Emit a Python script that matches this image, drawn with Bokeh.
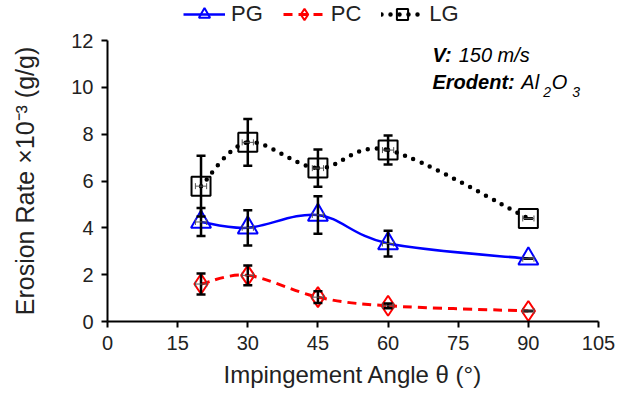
from bokeh.plotting import figure
from bokeh.layouts import column
from bokeh.models import (ColumnDataSource, Whisker, TeeHead, FixedTicker, Legend, LegendItem,
                          Label, Range1d)
from bokeh.embed import file_html
from bokeh.resources import INLINE

# ---- data ----
angles = [20, 30, 45, 60, 90]
pg = [4.25, 4.0, 4.55, 3.33, 2.68]
pg_err = [0.6, 0.75, 0.8, 0.55, 0.0]
pc = [1.6, 1.97, 1.04, 0.67, 0.45]
pc_err = [0.45, 0.42, 0.25, 0.1, 0.0]
lg = [5.78, 7.65, 6.55, 7.32, 4.4]
lg_err = [1.3, 1.0, 0.8, 0.62, 0.0]
ang_err = [1.2, 1.2, 1.2, 1.2, 1.2]
x_ticks = [0, 15, 30, 45, 60, 75, 90, 105]
y_ticks = [0, 2, 4, 6, 8, 10, 12]

FONT = "Liberation Sans"

p = figure(width=634, height=369, output_backend="svg", toolbar_location=None,
           x_range=Range1d(0, 105), y_range=Range1d(0, 12),
           min_border_left=107, min_border_right=36, min_border_top=12, min_border_bottom=76)
p.outline_line_color = None
p.xgrid.visible = False
p.ygrid.visible = False
p.background_fill_color = "white"
p.border_fill_color = "white"

for ax, ticks in ((p.xaxis[0], x_ticks), (p.yaxis[0], y_ticks)):
    ax.ticker = FixedTicker(ticks=ticks)
    ax.axis_line_width = 2
    ax.axis_line_color = "black"
    ax.major_tick_line_width = 2
    ax.major_tick_line_color = "black"
    ax.major_tick_out = 6
    ax.major_tick_in = 0
    ax.minor_tick_line_color = None
    ax.major_label_text_font = FONT
    ax.major_label_text_font_size = "20px"
    ax.major_label_text_color = "#222222"
    ax.axis_label_text_font = FONT
    ax.axis_label_text_font_size = "24px"
    ax.axis_label_text_font_style = "normal"
    ax.axis_label_text_color = "#222222"

p.xaxis.axis_label = "Impingement Angle θ (°)"
p.yaxis.axis_label = "Erosion Rate ×10⁻³ (g/g)"
p.yaxis.axis_label_text_font_size = "25px"
p.xaxis.major_label_standoff = 8
p.yaxis.major_label_standoff = 8
p.xaxis.axis_label_standoff = 8
p.yaxis.axis_label_standoff = 29


def smooth(xs, ys):
    n = len(xs)
    x0, y0, x1, y1, cx0, cy0, cx1, cy1 = [], [], [], [], [], [], [], []
    for i in range(n - 1):
        im = max(i - 1, 0)
        ip2 = min(i + 2, n - 1)
        x0.append(xs[i]); y0.append(ys[i])
        x1.append(xs[i + 1]); y1.append(ys[i + 1])
        cx0.append(xs[i] + (xs[i + 1] - xs[im]) / 6.0)
        cy0.append(ys[i] + (ys[i + 1] - ys[im]) / 6.0)
        cx1.append(xs[i + 1] - (xs[ip2] - xs[i]) / 6.0)
        cy1.append(ys[i + 1] - (ys[ip2] - ys[i]) / 6.0)
    return dict(x0=x0, y0=y0, x1=x1, y1=y1, cx0=cx0, cy0=cy0, cx1=cx1, cy1=cy1)


series = [
    ("PG", pg, pg_err, "#0000FF", None, 2.5, "triangle", 20),
    ("PC", pc, pc_err, "#FF0000", "9 6", 3, "diamond", 20),
    ("LG", lg, lg_err, "black", "0 9", 4.5, "square", 19),
]

# legend strip (separate figure above the chart); proxies sit outside its visible range
lf = figure(width=634, height=28, output_backend="svg", toolbar_location=None,
            x_range=Range1d(0, 1), y_range=Range1d(0, 1),
            x_axis_location=None, y_axis_location=None,
            min_border_left=0, min_border_right=0, min_border_top=0, min_border_bottom=0)
lf.outline_line_color = None
lf.xgrid.visible = False
lf.ygrid.visible = False
proxy_x = [5, 6]
proxy_y = [5, 6]

items = []
for name, ys, errs, color, dash, lw, marker, size in series:
    src = ColumnDataSource(dict(x=angles, y=ys,
                                upper=[a + b for a, b in zip(ys, errs)],
                                lower=[a - b for a, b in zip(ys, errs)],
                                xl=[a - b for a, b in zip(angles, ang_err)],
                                xu=[a + b for a, b in zip(angles, ang_err)]))
    kw = dict(line_color=color, line_width=lw, line_cap="round" if dash == "0 9" else "butt")
    if dash:
        kw["line_dash"] = dash
    p.bezier(source=ColumnDataSource(smooth(angles, ys)), x0="x0", y0="y0", x1="x1", y1="y1",
             cx0="cx0", cy0="cy0", cx1="cx1", cy1="cy1", **kw)
    # error bars
    w = Whisker(source=src, base="x", upper="upper", lower="lower", line_width=2.5,
                line_color="black",
                upper_head=TeeHead(size=9, line_width=2.5, line_color="black"),
                lower_head=TeeHead(size=9, line_width=2.5, line_color="black"), level="glyph")
    p.add_layout(w)
    wx = Whisker(source=src, base="y", upper="xu", lower="xl", dimension="width", line_width=1,
                 line_color="#555555",
                 upper_head=TeeHead(size=6, line_width=1, line_color="#555555"),
                 lower_head=TeeHead(size=6, line_width=1, line_color="#555555"), level="glyph")
    p.add_layout(wx)
    p.scatter("x", "y", source=src, marker=marker, size=size, line_color=color,
              line_width=2, fill_color=None)
    # legend proxies
    ll = lf.line(proxy_x, proxy_y, **kw)
    ls = lf.scatter(proxy_x, proxy_y, marker=marker, size=size, line_color=color, line_width=2,
                    fill_color=None)
    items.append(LegendItem(label=name, renderers=[ll, ls]))

legend = Legend(items=items, orientation="horizontal", location=(76, 0),
                label_text_font=FONT, label_text_font_size="22px", label_text_color="#222222",
                glyph_width=42, glyph_height=28, label_height=28, label_standoff=6,
                spacing=20, padding=0, margin=0, border_line_color=None,
                background_fill_alpha=0)
lf.add_layout(legend, "center")

# annotation
def lab(x, y, t, style, size="20px"):
    p.add_layout(Label(x=x, y=y, text=t, text_font=FONT, text_font_size=size,
                       text_font_style=style, text_color="black"))

lab(69.5, 10.9, "V:", "bold italic")
lab(75.1, 10.9, "150 m/s", "italic")
lab(69.5, 9.74, "Erodent:", "bold italic")
lab(88.5, 9.74, "Al", "italic")
lab(93.2, 9.6, "2", "italic", "14px")
lab(95.0, 9.74, "O", "italic")
lab(99.4, 9.6, "3", "italic", "14px")

open("out.html", "w").write(file_html(column(lf, p, spacing=0), INLINE))
